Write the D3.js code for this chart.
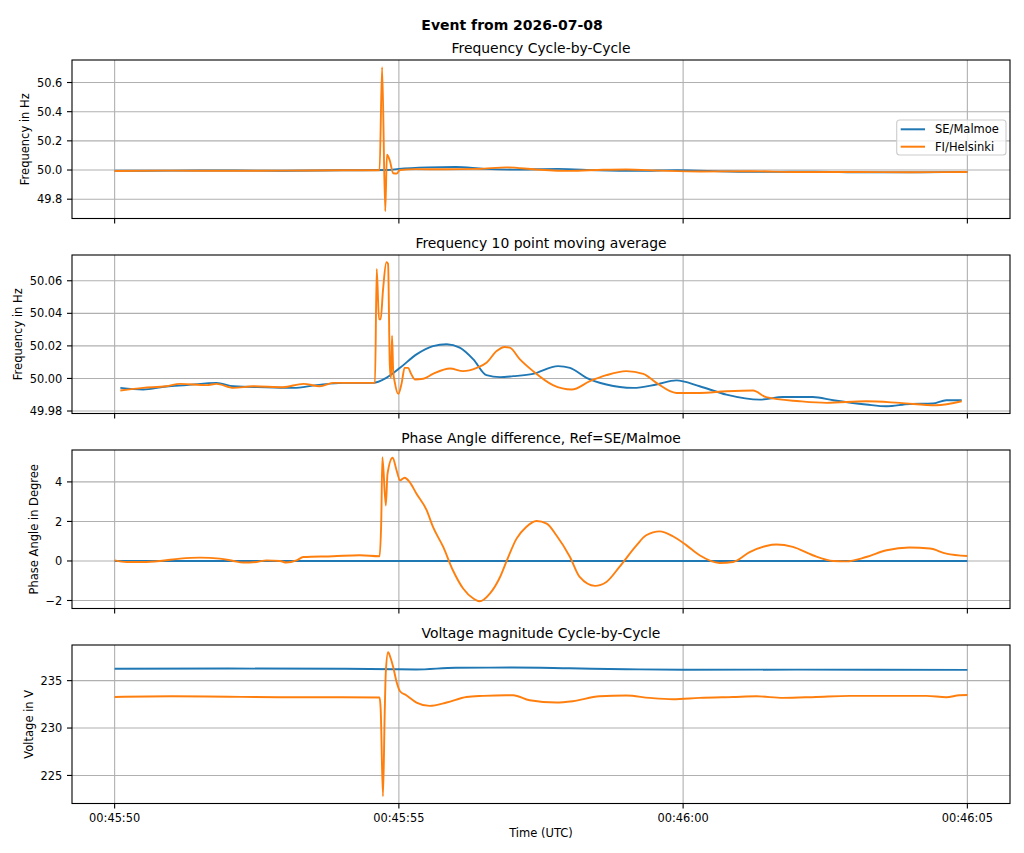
<!DOCTYPE html>
<html>
<head>
<meta charset="utf-8">
<script src="https://cdn.jsdelivr.net/npm/d3@7"></script>
<style>
body { margin: 0; background: #fff; }
text { font-family: "DejaVu Sans", sans-serif; fill: #000; }
</style>
</head>
<body>
<div id="chart"></div>
<script>
// series names and colours
const seriesNames = ["SE/Malmoe", "FI/Helsinki"];
const colors = ["#1f77b4", "#ff7f0e"];
const startTime = Date.UTC(2026, 6, 8, 0, 45, 50);

// panel 1: frequency cycle-by-cycle (seconds after 00:45:50, Hz)
const freqSeT = [0, 1, 2, 3, 4, 4.8, 5.0, 5.5, 6.0, 6.5, 7.0, 7.8, 8.5, 9.2, 9.9, 10.8, 11.5, 12.3, 13.2, 14.0, 15.0];
const freqSe = [49.995, 49.996, 49.997, 49.995, 49.998, 50.0, 50.008, 50.018, 50.021, 50.008, 50.003, 50.008, 49.998, 49.994, 49.999, 49.99, 49.987, 49.989, 49.984, 49.984, 49.987];
const freqFiT = [0, 1, 2, 3, 4, 4.66, 4.705, 4.76, 4.79, 4.84, 4.90, 4.96, 5.02, 5.3, 5.8, 6.4, 6.9, 7.4, 8.0, 8.6, 9.0, 9.6, 10.3, 11.2, 12.0, 13.0, 14.0, 15.0];
const freqFi = [49.993, 49.996, 49.995, 49.996, 49.998, 49.998, 50.705, 49.717, 50.105, 50.065, 49.978, 49.975, 50.0, 50.006, 50.005, 50.008, 50.018, 50.004, 49.994, 50.002, 50.004, 49.996, 49.99, 49.992, 49.986, 49.986, 49.985, 49.986];

// panel 2: 10 point moving average
const avgSeT = [0.1, 0.5, 0.91, 1.27, 1.79, 2.09, 2.67, 3.14, 3.55, 4.02, 4.55, 4.78, 5.02, 5.31, 5.60, 5.84, 6.07, 6.31, 6.54, 6.78, 7.01, 7.36, 7.80, 8.01, 8.30, 8.65, 9.12, 9.53, 9.88, 10.29, 10.76, 11.35, 11.76, 12.28, 12.64, 13.22, 13.58, 13.98, 14.39, 14.63, 14.9];
const avgSe = [49.9942, 49.9932, 49.9951, 49.9959, 49.9973, 49.9952, 49.9946, 49.9942, 49.9959, 49.9973, 49.9973, 50.0004, 50.0065, 50.0148, 50.0199, 50.0210, 50.0189, 50.0117, 50.0020, 50.0008, 50.0014, 50.0028, 50.0076, 50.0065, 50.0004, 49.9963, 49.9942, 49.9963, 49.9988, 49.9952, 49.9901, 49.9870, 49.9886, 49.9886, 49.9866, 49.9840, 49.9829, 49.9843, 49.9846, 49.9866, 49.9866];
const avgFiT = [0.1, 0.5, 0.91, 1.15, 1.62, 1.79, 2.09, 2.44, 2.96, 3.32, 3.61, 3.84, 4.20, 4.58, 4.61, 4.65, 4.68, 4.72, 4.78, 4.81, 4.84, 4.86, 4.88, 4.90, 4.93, 4.99, 5.05, 5.10, 5.16, 5.22, 5.28, 5.43, 5.60, 5.90, 6.13, 6.37, 6.54, 6.72, 6.86, 6.95, 7.13, 7.36, 7.71, 8.04, 8.36, 8.65, 9.00, 9.30, 9.53, 9.88, 10.29, 10.76, 11.23, 11.46, 12.05, 12.52, 13.22, 13.81, 14.45, 14.9];
const avgFi = [49.9926, 49.9942, 49.9952, 49.9967, 49.9959, 49.9967, 49.9942, 49.9952, 49.9946, 49.9967, 49.9952, 49.9973, 49.9973, 49.9973, 50.0673, 50.0364, 50.0364, 50.0539, 50.0714, 50.0703, 50.0086, 50.0004, 50.0261, 50.0045, 49.9973, 49.9905, 49.9973, 50.0065, 50.0065, 50.0025, 49.9994, 49.9998, 50.0028, 50.0061, 50.0045, 50.0065, 50.0096, 50.0168, 50.0193, 50.0189, 50.0117, 50.0045, 49.9959, 49.9932, 49.9983, 50.0020, 50.0045, 50.0028, 49.9973, 49.9911, 49.9911, 49.9921, 49.9926, 49.9885, 49.9860, 49.9850, 49.9860, 49.9850, 49.9835, 49.9860];

// panel 3: phase angle difference (degrees)
const phaseSeT = [0, 15];
const phaseSe = [0, 0];
const phaseFiT = [0, 0.21, 0.5, 0.8, 1.15, 1.5, 1.85, 2.09, 2.26, 2.5, 2.67, 2.91, 3.02, 3.2, 3.32, 3.84, 4.31, 4.66, 4.69, 4.71, 4.77, 4.80, 4.89, 4.96, 5.02, 5.10, 5.19, 5.31, 5.49, 5.60, 5.78, 5.95, 6.13, 6.31, 6.42, 6.60, 6.78, 6.90, 7.07, 7.24, 7.42, 7.60, 7.77, 8.01, 8.18, 8.45, 8.65, 8.88, 9.18, 9.35, 9.59, 9.82, 10.06, 10.29, 10.64, 10.88, 11.17, 11.46, 11.64, 11.93, 12.28, 12.64, 12.87, 13.22, 13.58, 13.98, 14.34, 14.63, 15.0];
const phaseFi = [0.03, -0.05, -0.05, 0, 0.12, 0.17, 0.12, 0, -0.08, -0.05, 0.03, 0, -0.08, 0.03, 0.2, 0.24, 0.29, 0.24, 2.05, 5.25, 2.81, 4.41, 5.22, 4.58, 4.08, 4.21, 3.99, 3.40, 2.56, 1.72, 0.71, -0.47, -1.39, -1.90, -2.04, -1.65, -0.81, 0.03, 1.13, 1.72, 2.02, 1.89, 1.30, 0.20, -0.81, -1.26, -1.06, -0.30, 0.79, 1.30, 1.50, 1.25, 0.79, 0.29, -0.10, -0.05, 0.45, 0.76, 0.83, 0.71, 0.29, 0, -0.02, 0.2, 0.54, 0.68, 0.63, 0.37, 0.25];

// panel 4: voltage magnitude (V)
const voltSeT = [0, 2, 4, 4.9, 5.3, 6.0, 7.0, 8.0, 9.0, 10.0, 12.0, 15.0];
const voltSe = [236.26, 236.28, 236.25, 236.2, 236.18, 236.36, 236.38, 236.3, 236.2, 236.15, 236.16, 236.14];
const voltFiT = [0, 1, 2, 3, 4, 4.66, 4.68, 4.72, 4.75, 4.77, 4.81, 4.85, 4.90, 4.96, 5.02, 5.13, 5.31, 5.54, 5.84, 6.19, 6.48, 6.89, 7.01, 7.30, 7.77, 8.06, 8.53, 9.00, 9.41, 9.82, 10.29, 10.88, 11.29, 11.76, 12.34, 12.93, 13.51, 14.28, 14.63, 14.86, 15.0];
const voltFi = [233.28, 233.35, 233.3, 233.25, 233.25, 233.22, 232.0, 222.8, 231.36, 235.9, 238.0, 237.47, 236.43, 234.85, 233.88, 233.46, 232.69, 232.34, 232.69, 233.28, 233.39, 233.46, 233.46, 232.93, 232.69, 232.83, 233.35, 233.43, 233.18, 233.04, 233.18, 233.28, 233.35, 233.18, 233.28, 233.39, 233.39, 233.39, 233.25, 233.46, 233.48];

// titles, labels and ticks
const titles = ["Frequency Cycle-by-Cycle", "Frequency 10 point moving average", "Phase Angle difference, Ref=SE/Malmoe", "Voltage magnitude Cycle-by-Cycle"];
const yLabels = ["Frequency in Hz", "Frequency in Hz", "Phase Angle in Degree", "Voltage in V"];
const yTicks = [[49.8, 50.0, 50.2, 50.4, 50.6], [49.98, 50.00, 50.02, 50.04, 50.06], [-2, 0, 2, 4], [225, 230, 235]];
const yFormats = [".1f", ".2f", "d", "d"];

const panels = [
  [d3.zip(freqSeT, freqSe), d3.zip(freqFiT, freqFi)],
  [d3.zip(avgSeT, avgSe), d3.zip(avgFiT, avgFi)],
  [d3.zip(phaseSeT, phaseSe), d3.zip(phaseFiT, phaseFi)],
  [d3.zip(voltSeT, voltSe), d3.zip(voltFiT, voltFi)]
];

const W = 1024, H = 853;
const left = 72, right = 1010, firstTop = 60, panelH = 158.5, step = 195;
const smallFont = "11.4px", titleFont = "13.9px";

const svg = d3.select("#chart").append("svg")
  .attr("width", W).attr("height", H);

const x = d3.scaleUtc()
  .domain([new Date(startTime - 750), new Date(startTime + 15750)])
  .range([left, right]);
const xTicks = x.ticks(d3.utcSecond.every(5));
const fmtTime = d3.utcFormat("%H:%M:%S");
const toDate = s => new Date(startTime + s * 1000);

svg.append("text")
  .attr("x", 512).attr("y", 29.5)
  .attr("text-anchor", "middle")
  .style("font-size", "14px").style("font-weight", "bold")
  .text("Event from 2026-07-08");

panels.forEach((series, i) => {
  const top = firstTop + i * step, bottom = top + panelH;
  const ext = d3.extent(series.flat(), d => d[1]);
  const pad = (ext[1] - ext[0]) * 0.05;
  const y = d3.scaleLinear().domain([ext[0] - pad, ext[1] + pad]).range([bottom, top]);
  const g = svg.append("g");

  // grid
  g.selectAll(".vgrid").data(xTicks).enter().append("line")
    .attr("x1", d => x(d)).attr("x2", d => x(d))
    .attr("y1", top).attr("y2", bottom)
    .attr("stroke", "#b0b0b0").attr("stroke-width", 1.1);
  g.selectAll(".hgrid").data(yTicks[i]).enter().append("line")
    .attr("x1", left).attr("x2", right)
    .attr("y1", d => y(d)).attr("y2", d => y(d))
    .attr("stroke", "#b0b0b0").attr("stroke-width", 1.1);

  // lines
  const line = d3.line()
    .curve(d3.curveMonotoneX)
    .x(d => x(toDate(d[0]))).y(d => y(d[1]));
  series.forEach((s, k) => {
    g.append("path")
      .attr("d", line(s))
      .attr("fill", "none")
      .attr("stroke", colors[k])
      .attr("stroke-width", 1.9)
      .attr("stroke-linejoin", "round");
  });

  // frame
  g.append("rect")
    .attr("x", left).attr("y", top)
    .attr("width", right - left).attr("height", panelH)
    .attr("fill", "none").attr("stroke", "#000").attr("stroke-width", 1.1);

  // y ticks
  const fmt = d3.format(yFormats[i]);
  g.selectAll(".ytick").data(yTicks[i]).enter().append("line")
    .attr("x1", left - 5).attr("x2", left)
    .attr("y1", d => y(d)).attr("y2", d => y(d))
    .attr("stroke", "#000").attr("stroke-width", 1.1);
  const yLab = g.selectAll(".ylab").data(yTicks[i]).enter().append("text")
    .attr("x", left - 9.7).attr("y", d => y(d)).attr("dy", "0.36em")
    .attr("text-anchor", "end")
    .style("font-size", smallFont)
    .text(d => fmt(d));

  // x ticks
  g.selectAll(".xtick").data(xTicks).enter().append("line")
    .attr("x1", d => x(d)).attr("x2", d => x(d))
    .attr("y1", bottom).attr("y2", bottom + 5)
    .attr("stroke", "#000").attr("stroke-width", 1.1);
  if (i === panels.length - 1) {
    g.selectAll(".xlab").data(xTicks).enter().append("text")
      .attr("x", d => x(d)).attr("y", bottom + 18.3)
      .attr("text-anchor", "middle")
      .style("font-size", smallFont)
      .text(d => fmtTime(d));
    g.append("text")
      .attr("x", (left + right) / 2).attr("y", 837)
      .attr("text-anchor", "middle")
      .style("font-size", "11.5px")
      .text("Time (UTC)");
  }

  // title
  g.append("text")
    .attr("x", (left + right) / 2).attr("y", top - 7.5)
    .attr("text-anchor", "middle")
    .style("font-size", titleFont)
    .text(titles[i]);

  // y label placed left of the widest tick label
  let minLeft = left;
  yLab.each(function() { minLeft = Math.min(minLeft, left - 9.7 - this.getComputedTextLength()); });
  const lx = minLeft - 12, ly = (top + bottom) / 2;
  g.append("text")
    .attr("transform", `translate(${lx},${ly}) rotate(-90)`)
    .attr("text-anchor", "middle").attr("dy", "0.36em")
    .style("font-size", "11.5px")
    .text(yLabels[i]);

  // legend in first panel
  if (i === 0) {
    const lg = g.append("g");
    lg.append("rect")
      .attr("x", 896.7).attr("y", 120).attr("width", 109.3).attr("height", 35)
      .attr("rx", 3)
      .attr("fill", "#fff").attr("fill-opacity", 0.8)
      .attr("stroke", "#cccccc").attr("stroke-width", 1.1);
    seriesNames.forEach((name, k) => {
      const cy = 129.3 + k * 17.4;
      lg.append("line")
        .attr("x1", 900.7).attr("x2", 925)
        .attr("y1", cy).attr("y2", cy)
        .attr("stroke", colors[k]).attr("stroke-width", 2);
      lg.append("text")
        .attr("x", 935).attr("y", cy).attr("dy", "0.36em")
        .style("font-size", "11.5px")
        .text(name);
    });
  }
});
</script>
</body>
</html>
